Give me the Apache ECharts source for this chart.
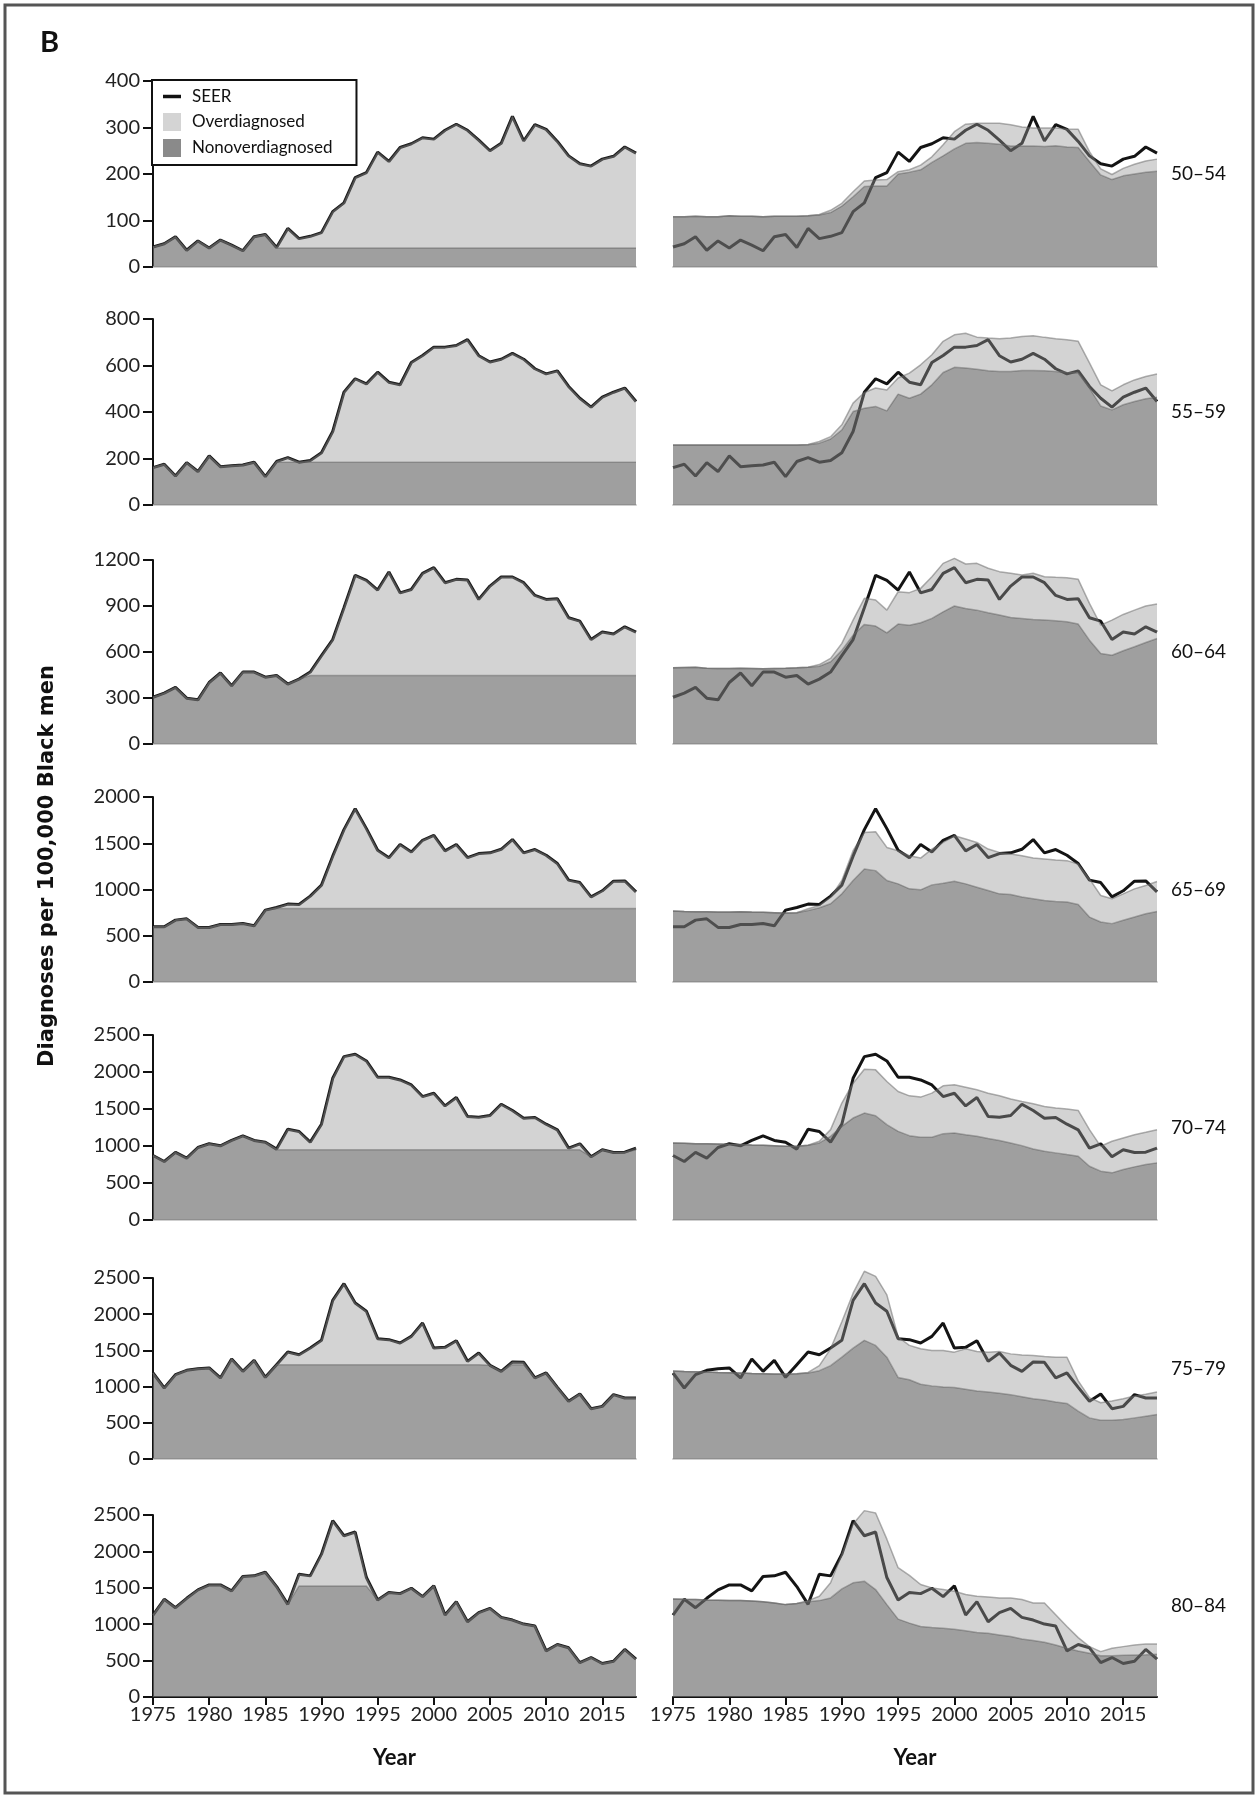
<!DOCTYPE html>
<html><head><meta charset="utf-8">
<script src="https://cdn.jsdelivr.net/npm/echarts@6/dist/echarts.min.js"></script>
<style>html,body{margin:0;padding:0;background:#fff}#chart{width:1259px;height:1800px}</style>
</head><body><div id="chart"></div>
<script>
const years = ['1975','1976','1977','1978','1979','1980','1981','1982','1983','1984','1985','1986','1987','1988','1989','1990','1991','1992','1993','1994','1995','1996','1997','1998','1999','2000','2001','2002','2003','2004','2005','2006','2007','2008','2009','2010','2011','2012','2013','2014','2015','2016','2017','2018'];
const ageGroups = ['50–54','55–59','60–64','65–69','70–74','75–79','80–84'];
const yMax = [400, 800, 1200, 2000, 2500, 2500, 2500];
const yInterval = [100, 200, 300, 500, 500, 500, 500];

// SEER observed incidence
const seer_50_54 = [43,50,65,36,56,41,58,47,35,65, 70,42,83,61,66,74,119,138,192,203, 247,227,257,265,278,275,294,307,294,273, 250,266,324,271,306,296,270,239,222,217, 232,238,258,245];
const seer_55_59 = [161,175,125,182,144,211,165,169,172,184, 122,187,204,184,191,225,316,485,543,521, 571,528,517,613,643,679,679,686,711,642, 615,627,652,627,586,564,577,510,459,421, 464,485,503,445];
const seer_60_64 = [305,332,369,299,288,401,463,380,469,469, 436,447,391,423,469,576,681,888,1100,1067, 1004,1122,986,1008,1113,1150,1052,1074,1069,943, 1030,1089,1089,1052,969,943,947,823,801,681, 731,718,764,729];
const seer_65_69 = [597,597,669,683,590,590,622,622,633,608, 777,806,842,838,928,1047,1360,1647,1874,1658, 1424,1342,1486,1406,1532,1586,1417,1486,1345,1388, 1396,1435,1540,1396,1432,1370,1281,1101,1075,921, 986,1090,1093,975];
const seer_70_74 = [872,791,913,836,980,1030,1003,1075,1137,1075, 1052,958,1227,1196,1052,1295,1915,2208,2239,2149, 1929,1929,1893,1825,1668,1713,1542,1655,1398,1389, 1412,1565,1479,1376,1385,1295,1218,971,1030,854, 949,913,917,971];
const seer_75_79 = [1188,981,1165,1225,1248,1257,1119,1381,1211,1363, 1128,1303,1478,1441,1533,1639,2192,2422,2155,2040, 1662,1648,1602,1694,1878,1533,1542,1634,1349,1464, 1294,1211,1340,1335,1119,1188,990,797,898,695, 727,889,843,843];
const seer_80_84 = [1126,1342,1227,1356,1471,1540,1540,1457,1655,1664, 1714,1517,1273,1687,1664,1962,2422,2215,2266,1641, 1333,1434,1420,1494,1379,1526,1126,1310,1034,1158, 1218,1094,1057,1002,974,634,722,676,473,542, 460,492,653,519];

// Left column: nonoverdiagnosed (constant-baseline model)
const nonL_50_54 = [43,50,65,36,56,41,58,47,35,65, 70,41,41,41,41,41,41,41,41,41, 41,41,41,41,41,41,41,41,41,41, 41,41,41,41,41,41,41,41,41,41, 41,41,41,41];
const nonL_55_59 = [161,175,125,182,144,211,165,169,172,184, 122,184,184,184,184,184,184,184,184,184, 184,184,184,184,184,184,184,184,184,184, 184,184,184,184,184,184,184,184,184,184, 184,184,184,184];
const nonL_60_64 = [305,332,369,299,288,401,463,380,469,469, 436,447,391,423,447,447,447,447,447,447, 447,447,447,447,447,447,447,447,447,447, 447,447,447,447,447,447,447,447,447,447, 447,447,447,447];
const nonL_65_69 = [597,597,669,683,590,590,622,622,633,608, 777,795,795,795,795,795,795,795,795,795, 795,795,795,795,795,795,795,795,795,795, 795,795,795,795,795,795,795,795,795,795, 795,795,795,795];
const nonL_70_74 = [872,791,913,836,980,1030,1003,1075,1137,1075, 1052,949,949,949,949,949,949,949,949,949, 949,949,949,949,949,949,949,949,949,949, 949,949,949,949,949,949,949,949,949,854, 949,913,917,949];
const nonL_75_79 = [1188,981,1165,1225,1248,1257,1119,1381,1211,1363, 1128,1303,1303,1303,1303,1303,1303,1303,1303,1303, 1303,1303,1303,1303,1303,1303,1303,1303,1303,1303, 1294,1211,1303,1303,1119,1188,990,797,898,695, 727,889,843,843];
const nonL_80_84 = [1126,1342,1227,1356,1471,1540,1540,1457,1655,1664, 1714,1517,1273,1526,1526,1526,1526,1526,1526,1526, 1333,1434,1420,1494,1379,1526,1126,1310,1034,1158, 1218,1094,1057,1002,974,634,722,676,473,542, 460,492,653,519];

// Right column: model nonoverdiagnosed and total (nonoverdiagnosed + overdiagnosed)
const nonR_50_54 = [108,108,109,108,108,110,109,109,108,109, 109,109,110,112,117,131,151,173,174,174, 200,204,209,225,239,254,266,268,266,264, 260,260,260,259,261,258,257,227,198,188, 196,200,204,206];
const totR_50_54 = [108,108,109,108,108,110,109,109,108,109, 109,109,110,113,122,137,162,185,187,188, 205,209,219,237,263,291,307,309,309,309, 306,301,299,299,299,297,296,248,211,199, 212,221,228,232];
const nonR_55_59 = [258,258,258,258,258,258,258,258,258,258, 258,258,259,266,284,323,402,416,424,405, 477,459,477,517,570,592,589,584,577,574, 574,579,579,577,574,570,567,503,426,409, 431,445,457,464];
const totR_55_59 = [258,258,258,258,258,258,258,258,258,258, 258,258,260,273,294,345,438,484,503,495, 546,567,603,646,704,732,739,722,718,715, 718,725,728,721,715,711,704,611,517,491, 517,538,553,563];
const nonR_60_64 = [497,499,501,494,492,492,494,492,490,492, 494,497,501,507,536,612,710,780,769,725, 782,775,791,819,862,900,884,873,856,841, 825,819,812,808,804,797,782,677,590,579, 608,634,662,688];
const totR_60_64 = [497,499,501,494,492,492,494,492,490,492, 494,497,501,518,558,656,808,950,939,873, 993,987,1015,1091,1178,1211,1174,1178,1146,1124, 1113,1102,1113,1091,1087,1085,1074,917,775,808, 845,873,900,913];
const nonR_65_69 = [767,763,760,760,756,756,760,756,753,749, 745,749,774,803,846,953,1097,1222,1204,1097, 1061,1007,996,1050,1068,1090,1061,1025,989,953, 946,918,900,882,871,864,839,702,649,631, 667,702,738,763];
const totR_65_69 = [767,763,760,760,756,756,760,756,753,749, 745,749,792,828,917,1097,1419,1616,1624,1455, 1419,1366,1340,1437,1509,1581,1545,1509,1437,1401, 1383,1366,1340,1330,1319,1312,1276,1115,935,900, 953,1007,1043,1086];
const nonR_70_74 = [1041,1037,1032,1032,1028,1023,1019,1014,1010,1005, 996,996,1010,1041,1131,1266,1378,1445,1409,1288, 1198,1140,1118,1118,1167,1176,1153,1131,1100,1073, 1041,1005,960,929,907,884,862,727,660,637, 682,718,749,772];
const totR_70_74 = [1041,1037,1032,1032,1028,1023,1019,1014,1010,1005, 996,996,1010,1064,1221,1580,1849,2038,2029,1872, 1737,1678,1661,1714,1813,1827,1795,1759,1714,1678, 1634,1602,1571,1535,1512,1499,1481,1221,996,1064, 1109,1153,1185,1221];
const nonR_75_79 = [1215,1210,1206,1201,1196,1192,1187,1182,1178,1173, 1173,1178,1187,1220,1289,1406,1531,1639,1569,1406, 1127,1094,1033,1010,996,987,964,940,926,908, 889,861,833,815,787,768,661,568,535,535, 545,568,591,614];
const totR_75_79 = [1215,1210,1206,1201,1196,1192,1187,1182,1178,1173, 1173,1178,1196,1289,1522,1895,2290,2593,2523,2267, 1685,1569,1522,1499,1499,1476,1522,1485,1476,1485, 1452,1438,1429,1415,1406,1406,1080,847,777,801, 833,870,894,926];
const nonR_80_84 = [1347,1342,1338,1333,1329,1324,1324,1319,1310,1292, 1269,1283,1310,1324,1361,1485,1568,1591,1476,1269, 1070,1015,969,955,946,932,909,886,876,853, 830,798,775,752,715,669,632,600,567,567, 572,577,581,586];
const totR_80_84 = [1347,1342,1338,1333,1329,1324,1324,1319,1310,1292, 1269,1283,1324,1384,1568,1961,2376,2560,2528,2168, 1776,1670,1545,1499,1476,1453,1407,1384,1375,1361, 1361,1338,1292,1292,1130,969,816,692,623,669, 692,715,729,729];

const seerRows = [seer_50_54, seer_55_59, seer_60_64, seer_65_69, seer_70_74, seer_75_79, seer_80_84];
const nonLRows = [nonL_50_54, nonL_55_59, nonL_60_64, nonL_65_69, nonL_70_74, nonL_75_79, nonL_80_84];
const nonRRows = [nonR_50_54, nonR_55_59, nonR_60_64, nonR_65_69, nonR_70_74, nonR_75_79, nonR_80_84];
const totRRows = [totR_50_54, totR_55_59, totR_60_64, totR_65_69, totR_70_74, totR_75_79, totR_80_84];

// layout
const gridTop = [81, 319, 560, 797, 1035, 1278, 1515];
const gridH = [186, 186, 184, 185, 185, 181, 182];
const colLeft = [153, 673];
const colW = [483, 484];
const FONT = 'Lato, "Open Sans", sans-serif';
const every5 = function (idx, val) { return Number(val) % 5 === 0; };

const grids = [], xAxes = [], yAxes = [], series = [], graphics = [];
for (let r = 0; r < 7; r++) {
  for (let s = 0; s < 2; s++) {
    const p = r * 2 + s;
    const last = r === 6;
    grids.push({left: colLeft[s], top: gridTop[r], width: colW[s], height: gridH[r], containLabel: false});
    xAxes.push({
      gridIndex: p, type: 'category', data: years, boundaryGap: false,
      axisLine: {show: true, lineStyle: {color: last ? '#111' : '#cfcfcf', width: 2}},
      axisTick: {show: last, length: 8, interval: every5, lineStyle: {color: '#111', width: 2}},
      axisLabel: {show: last, interval: every5, fontFamily: FONT, fontSize: 20, color: '#222', margin: 8},
      splitLine: {show: false},
      name: last ? 'Year' : '', nameLocation: 'middle', nameGap: 50,
      nameTextStyle: {fontFamily: FONT, fontWeight: 'bold', fontSize: 22, color: '#111'}
    });
    yAxes.push({
      gridIndex: p, type: 'value', min: 0, max: yMax[r], interval: yInterval[r], show: s === 0,
      axisLine: {show: true, lineStyle: {color: '#111', width: 2}},
      axisTick: {show: true, length: 10, lineStyle: {color: '#111', width: 2}},
      axisLabel: {fontFamily: FONT, fontSize: 20, color: '#222', margin: 13,
                  formatter: function (v) { return String(v); }},
      splitLine: {show: false}
    });
    const seer = seerRows[r];
    const non = s === 0 ? nonLRows[r] : nonRRows[r];
    const tot = s === 0 ? seer : totRRows[r];
    const over = tot.map((v, i) => Math.max(0, v - non[i]));
    series.push({
      name: 'SEER', type: 'line', xAxisIndex: p, yAxisIndex: p, data: seer,
      symbol: 'none', clip: false, z: 1, silent: true,
      lineStyle: {color: '#141414', width: 3}, itemStyle: {color: '#141414'}
    });
    series.push({
      name: 'Nonoverdiagnosed', type: 'line', xAxisIndex: p, yAxisIndex: p, data: non,
      stack: 'm' + p, symbol: 'none', clip: false, z: 2, silent: true,
      lineStyle: {color: 'rgba(95,95,95,0.55)', width: 1.5},
      areaStyle: {color: 'rgba(110,110,110,0.66)', opacity: 1},
      itemStyle: {color: '#8a8a8a'}
    });
    series.push({
      name: 'Overdiagnosed', type: 'line', xAxisIndex: p, yAxisIndex: p, data: over,
      stack: 'm' + p, symbol: 'none', clip: false, z: 3, silent: true,
      lineStyle: {color: 'rgba(100,100,100,0.5)', width: 1.5},
      areaStyle: {color: 'rgba(150,150,150,0.42)', opacity: 1},
      itemStyle: {color: '#d4d4d4'}
    });
  }
  graphics.push({
    type: 'text', x: 1171, y: gridTop[r] + gridH[r] / 2,
    style: {text: ageGroups[r], font: '19px Lato, "Open Sans", sans-serif', fill: '#111',
            align: 'left', verticalAlign: 'middle', textAlign: 'left', textVerticalAlign: 'middle'}
  });
}
graphics.push({type: 'rect', shape: {x: 5, y: 5, width: 1248, height: 1788},
  style: {fill: 'none', stroke: '#555', lineWidth: 3}, silent: true});
graphics.push({type: 'text', x: 40, y: 43,
  style: {text: 'B', font: 'bold 29px Lato, "Open Sans", sans-serif', fill: '#111',
          align: 'left', verticalAlign: 'middle', textAlign: 'left', textVerticalAlign: 'middle'}});
graphics.push({type: 'text', x: 48, y: 866, rotation: Math.PI / 2,
  style: {text: 'Diagnoses per 100,000 Black men', font: 'bold 21px "DejaVu Sans", sans-serif', fill: '#111',
          align: 'center', verticalAlign: 'middle', textAlign: 'center', textVerticalAlign: 'middle'}});

const chart = echarts.init(document.getElementById('chart'), null, {renderer: 'canvas'});
chart.setOption({
  animation: false,
  backgroundColor: '#fff',
  grid: grids, xAxis: xAxes, yAxis: yAxes, series: series,
  legend: {
    left: 152, top: 80, orient: 'vertical', selectedMode: false,
    backgroundColor: '#fff', borderColor: '#111', borderWidth: 2, borderRadius: 0,
    padding: [8, 24, 8, 11], itemGap: 8, itemWidth: 18, itemHeight: 18,
    textStyle: {fontFamily: FONT, fontSize: 17, color: '#111', padding: [0, 0, 0, 6]},
    data: [
      {name: 'SEER', icon: 'path://M0,0L18,0L18,3.5L0,3.5Z', itemStyle: {color: '#111', borderWidth: 0}},
      {name: 'Overdiagnosed', icon: 'rect', itemStyle: {color: '#d4d4d4', borderWidth: 0}},
      {name: 'Nonoverdiagnosed', icon: 'rect', itemStyle: {color: '#8a8a8a', borderWidth: 0}}
    ]
  },
  graphic: graphics
});
</script></body></html>
